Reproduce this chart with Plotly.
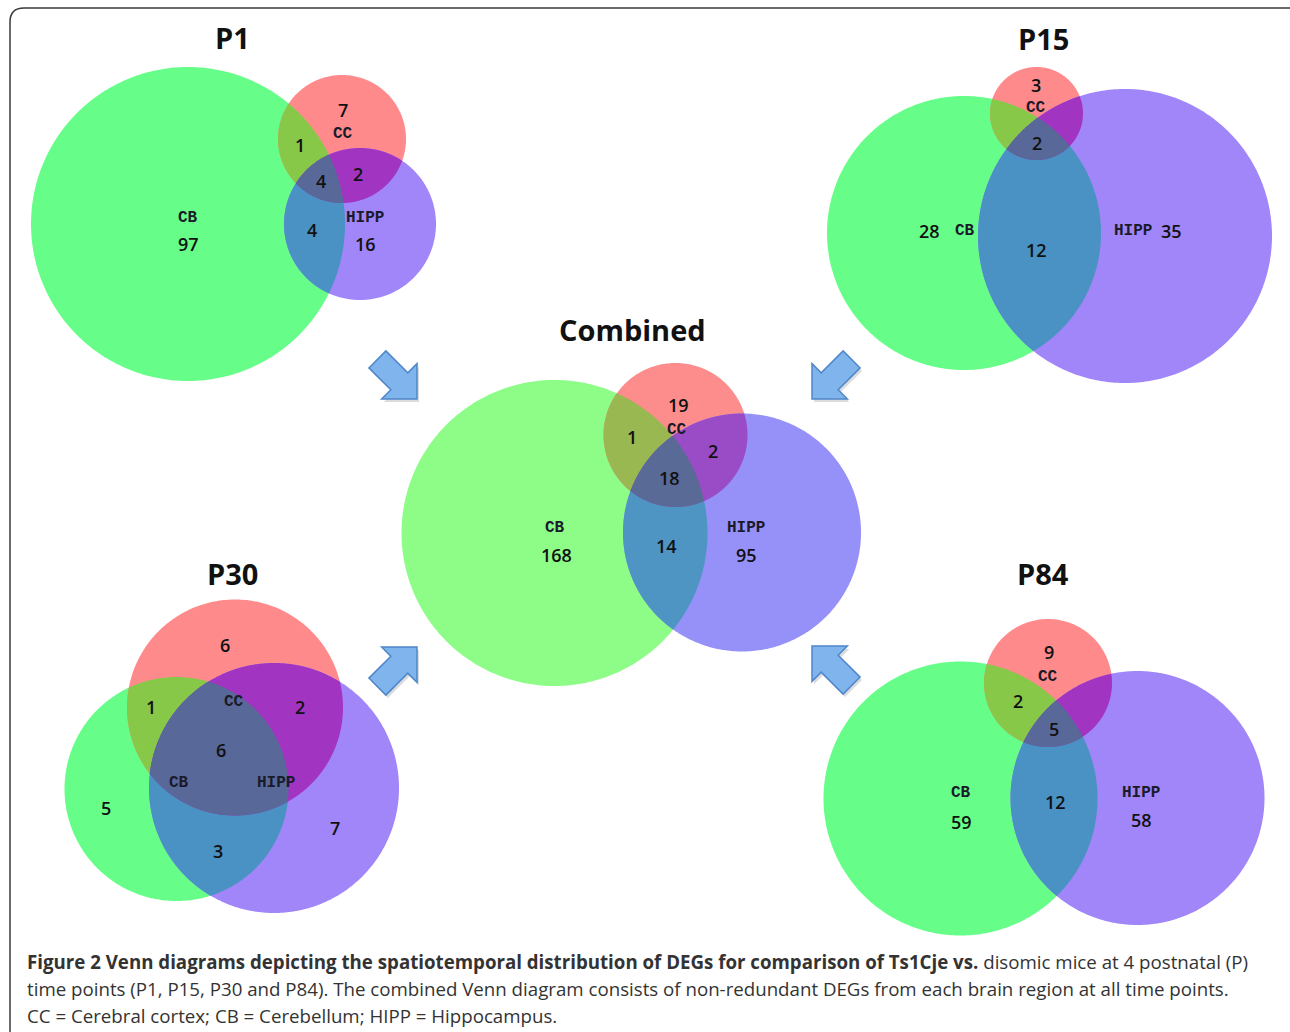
import numpy as np
import plotly.graph_objects as go

# ---------------------------------------------------------------------------
# Data: DEG counts per Venn segment for each time point
# segment order: CB only, CC only, HIPP only, CB&CC, CB&HIPP, CC&HIPP, all three
# (None = segment drawn but not labelled)
# ---------------------------------------------------------------------------
regions = ["CB", "CC", "HIPP"]
segments = ["CB", "CC", "HIPP", "CB&CC", "CB&HIPP", "CC&HIPP", "CB&CC&HIPP"]
panel_titles = ["P1", "P15", "Combined", "P30", "P84"]

p1_counts = [97, 7, 16, 1, 4, 2, 4]
p15_counts = [28, 3, 35, None, 12, None, 2]
combined_counts = [168, 19, 95, 1, 14, 2, 18]
p30_counts = [5, 6, 7, 1, 3, 2, 6]
p84_counts = [59, 9, 58, 2, 12, None, 5]

caption_lines = [
    "<b>Figure 2 Venn diagrams depicting the spatiotemporal distribution of DEGs for comparison of Ts1Cje vs.</b>"
    " disomic mice at 4 postnatal (P)",
    "time points (P1, P15, P30 and P84). The combined Venn diagram consists of non-redundant DEGs from each brain region at all time points.",
    "CC = Cerebral cortex; CB = Cerebellum; HIPP = Hippocampus.",
]

counts_by_panel = {
    "P1": p1_counts,
    "P15": p15_counts,
    "Combined": combined_counts,
    "P30": p30_counts,
    "P84": p84_counts,
}

# ---------------------------------------------------------------------------
# Layout geometry (pixel coordinates, y grows downward)
# ---------------------------------------------------------------------------
W, H = 1290, 1032

geometry = {
    "P1": dict(
        title=(232, 37),
        circles={"CB": (188, 224, 157), "CC": (342, 139, 64), "HIPP": (360, 224, 76)},
        count_pos={"CB": (188, 244), "CC": (343, 110), "HIPP": (365, 244),
                   "CB&CC": (300, 145), "CB&HIPP": (312, 230), "CC&HIPP": (358, 174),
                   "CB&CC&HIPP": (321, 181)},
        name_pos={"CB": (188, 218), "CC": (343, 134), "HIPP": (365, 218)},
    ),
    "P15": dict(
        title=(1043, 38),
        circles={"CB": (964, 233, 137), "CC": (1036.5, 113.5, 46.5), "HIPP": (1125, 236, 147)},
        count_pos={"CB": (929, 231), "CC": (1036, 85), "HIPP": (1171, 231),
                   "CB&HIPP": (1036, 250), "CB&CC&HIPP": (1037, 143)},
        name_pos={"CB": (965, 231), "CC": (1036, 108), "HIPP": (1133, 231)},
    ),
    "Combined": dict(
        title=(632, 329),
        circles={"CB": (554.5, 533, 153), "CC": (675.5, 435, 72), "HIPP": (742, 532.5, 119)},
        count_pos={"CB": (556, 555), "CC": (678, 405), "HIPP": (746, 555),
                   "CB&CC": (632, 437), "CB&HIPP": (666, 546), "CC&HIPP": (713, 451),
                   "CB&CC&HIPP": (669, 478)},
        name_pos={"CB": (555, 528), "CC": (677, 430), "HIPP": (746, 528)},
    ),
    "P30": dict(
        title=(232, 573),
        circles={"CB": (176.5, 789, 112), "CC": (235, 707.5, 108), "HIPP": (274, 788, 125)},
        count_pos={"CB": (106, 808), "CC": (225, 645), "HIPP": (335, 828),
                   "CB&CC": (151, 707), "CB&HIPP": (218, 851), "CC&HIPP": (300, 707),
                   "CB&CC&HIPP": (221, 750)},
        name_pos={"CB": (179, 783), "CC": (234, 702), "HIPP": (276, 783)},
    ),
    "P84": dict(
        title=(1043, 573),
        circles={"CB": (960.5, 798.5, 137), "CC": (1048, 683, 64), "HIPP": (1137.5, 798, 127)},
        count_pos={"CB": (961, 822), "CC": (1049, 652), "HIPP": (1141, 820),
                   "CB&CC": (1018, 701), "CB&HIPP": (1055, 802), "CB&CC&HIPP": (1054, 729)},
        name_pos={"CB": (961, 793), "CC": (1048, 677), "HIPP": (1141, 793)},
    ),
}

# segment fill colours (blended look of translucent circles)
time_colors = {
    "CB": "#66fe88", "CC": "#fe8a8c", "HIPP": "#a086f8",
    "CB&CC": "#88c848", "CB&HIPP": "#4a92c4", "CC&HIPP": "#a234c2",
    "CB&CC&HIPP": "#586898",
}
combined_colors = {
    "CB": "#8dfd88", "CC": "#fd8c8c", "HIPP": "#9690f9",
    "CB&CC": "#9ab852", "CB&HIPP": "#4f95c4", "CC&HIPP": "#9a4cc6",
    "CB&CC&HIPP": "#5a6a96",
}

# arrows: tip position and pointing direction
arrows = [
    ((417, 399), (1, 1)),
    ((812, 399), (-1, 1)),
    ((417, 647), (1, -1)),
    ((812, 646), (-1, -1)),
]


def circle_points(cx, cy, r, n=1440):
    t = np.linspace(0, 2 * np.pi, n, endpoint=False)
    return cx + r * np.cos(t), cy + r * np.sin(t)


def to_path(x, y):
    pts = " L".join(f"{a:.2f},{b:.2f}" for a, b in zip(x, y))
    return "M" + pts + " Z"


def intersection_path(circles):
    """Outline of the (convex) intersection of a set of circles."""
    xs, ys = [], []
    for i, (cx, cy, r) in enumerate(circles):
        x, y = circle_points(cx, cy, r)
        keep = np.ones_like(x, dtype=bool)
        for j, (ox, oy, orad) in enumerate(circles):
            if j != i:
                keep &= (x - ox) ** 2 + (y - oy) ** 2 <= orad ** 2
        xs.append(x[keep])
        ys.append(y[keep])
    x = np.concatenate(xs)
    y = np.concatenate(ys)
    if len(x) < 3:
        return None
    mx, my = x.mean(), y.mean()
    order = np.argsort(np.arctan2(y - my, x - mx))
    return to_path(x[order], y[order])


shapes = []

# rounded frame
fx0, fy0, fx1, fy1, rad = 10, 8, 1302, 1045, 14
frame = (f"M{fx0 + rad},{fy0} L{fx1 - rad},{fy0} Q{fx1},{fy0} {fx1},{fy0 + rad} "
         f"L{fx1},{fy1 - rad} Q{fx1},{fy1} {fx1 - rad},{fy1} L{fx0 + rad},{fy1} "
         f"Q{fx0},{fy1} {fx0},{fy1 - rad} L{fx0},{fy0 + rad} Q{fx0},{fy0} {fx0 + rad},{fy0} Z")
shapes.append(dict(type="path", path=frame, xref="x", yref="y",
                   line=dict(color="#3a3a3a", width=1.5), fillcolor="rgba(0,0,0,0)"))

annotations = []

for name in panel_titles:
    g = geometry[name]
    colors = combined_colors if name == "Combined" else time_colors
    circ = g["circles"]
    # full circles first, then overlaps painted on top
    for reg in regions:
        cx, cy, r = circ[reg]
        x, y = circle_points(cx, cy, r, 360)
        shapes.append(dict(type="path", path=to_path(x, y), xref="x", yref="y",
                           fillcolor=colors[reg], line=dict(width=0)))
    for seg in ["CB&CC", "CB&HIPP", "CC&HIPP", "CB&CC&HIPP"]:
        p = intersection_path([circ[k] for k in seg.split("&")])
        if p:
            shapes.append(dict(type="path", path=p, xref="x", yref="y",
                               fillcolor=colors[seg], line=dict(width=0)))

    tx, ty = g["title"]
    annotations.append(dict(x=tx, y=ty, text=f"<b>{name}</b>", showarrow=False,
                            xref="x", yref="y", xanchor="center", yanchor="middle",
                            font=dict(family="Open Sans", size=29, color="#111111")))

    for seg, val in zip(segments, counts_by_panel[name]):
        if val is None:
            continue
        px, py = g["count_pos"][seg]
        annotations.append(dict(x=px, y=py, text=str(val), showarrow=False,
                                xref="x", yref="y", xanchor="center", yanchor="middle",
                                font=dict(family="Open Sans", size=18, color="#111111", weight=600)))
    for reg in regions:
        px, py = g["name_pos"][reg]
        annotations.append(dict(x=px, y=py, text=f"<b>{reg}</b>", showarrow=False,
                                xref="x", yref="y", xanchor="center", yanchor="middle",
                                font=dict(family="Liberation Mono", size=16, color="#1a1a2a")))

# block arrows pointing to the combined diagram
HEAD, HALF_W, LENGTH = 25, 12, 56
local = np.array([(0, 0), (-HEAD, HEAD), (-HEAD, HALF_W), (-LENGTH, HALF_W),
                  (-LENGTH, -HALF_W), (-HEAD, -HALF_W), (-HEAD, -HEAD)], dtype=float)
for (tx, ty), (dx, dy) in arrows:
    d = np.array([dx, dy], dtype=float)
    d /= np.linalg.norm(d)
    n = np.array([-d[1], d[0]])
    pts = np.array([tx, ty]) + local[:, :1] * d + local[:, 1:] * n
    shadow = pts + np.array([2, 3])
    shapes.append(dict(type="path", path=to_path(shadow[:, 0], shadow[:, 1]), xref="x", yref="y",
                       fillcolor="rgba(60,60,60,0.18)", line=dict(width=0)))
    shapes.append(dict(type="path", path=to_path(pts[:, 0], pts[:, 1]), xref="x", yref="y",
                       fillcolor="#80b4ec", line=dict(color="#4f87cc", width=1.5)))

# caption
for i, line in enumerate(caption_lines):
    annotations.append(dict(x=25, y=961 + 27 * i, text=line, showarrow=False,
                            xref="x", yref="y", xanchor="left", yanchor="middle",
                            font=dict(family="Open Sans", size=18.7, color="#333333")))

fig = go.Figure()
fig.update_layout(
    width=W, height=H, autosize=False,
    margin=dict(l=0, r=0, t=0, b=0, pad=0),
    paper_bgcolor="white", plot_bgcolor="white",
    xaxis=dict(range=[0, W], visible=False, fixedrange=True, domain=[0, 1]),
    yaxis=dict(range=[H, 0], visible=False, fixedrange=True, domain=[0, 1]),
    shapes=shapes, annotations=annotations, showlegend=False,
)
fig.write_html("out.html", config={"displayModeBar": False})
